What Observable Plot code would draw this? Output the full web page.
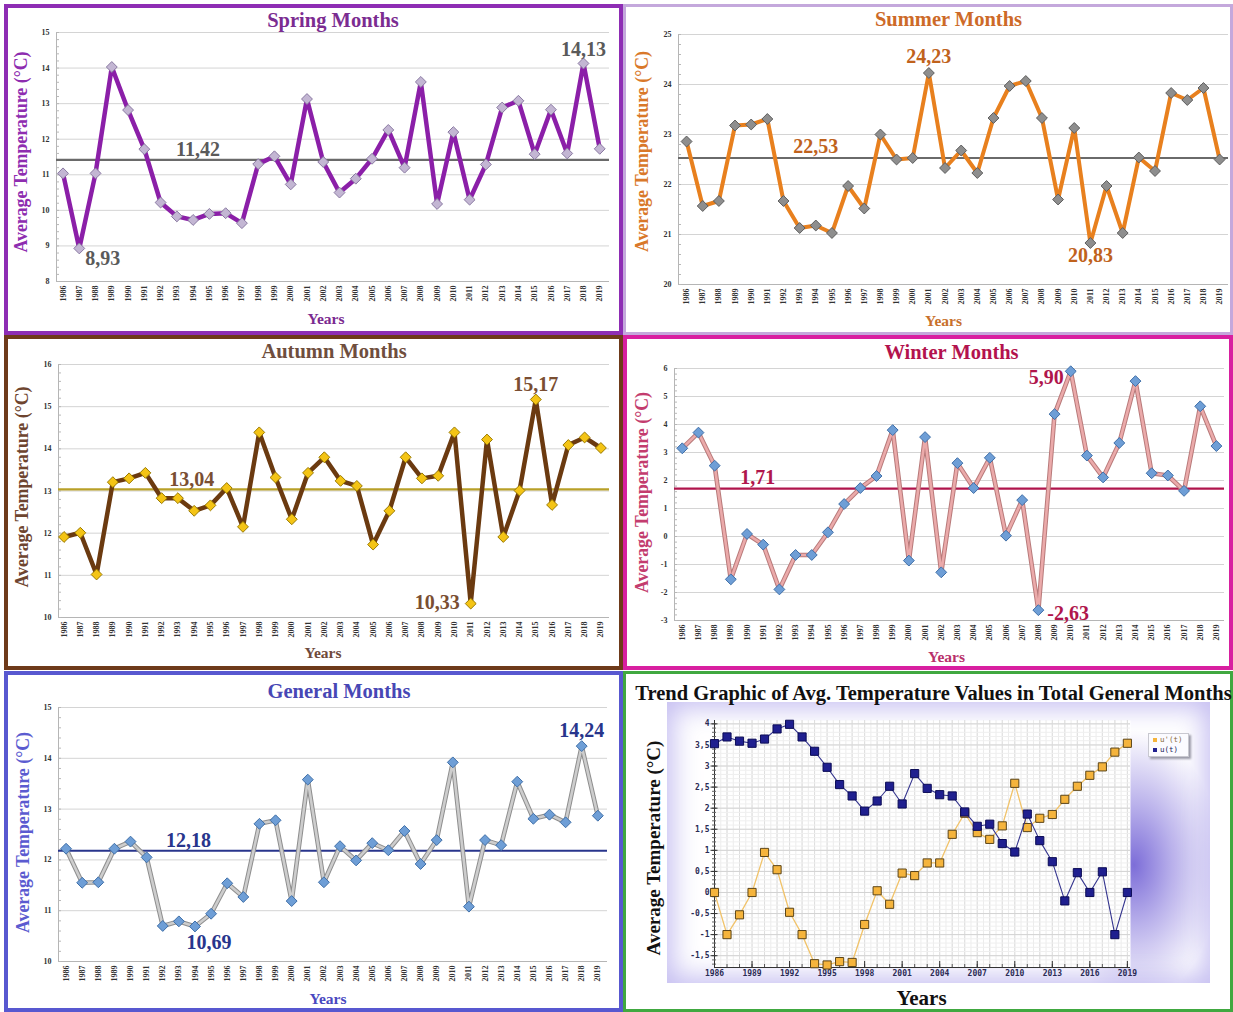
<!DOCTYPE html>
<html><head><meta charset="utf-8">
<script src="https://cdn.jsdelivr.net/npm/d3@7"></script>
<script src="https://cdn.jsdelivr.net/npm/@observablehq/plot@0.6"></script>
<style>
body{margin:0;background:#fff;}
#root{position:relative;width:1233px;height:1012px;overflow:hidden;background:#fff;font-family:"Liberation Serif",serif;}
.panel{position:absolute;box-sizing:border-box;}
.panel svg{position:absolute;left:0;top:0;overflow:visible;}
.grad{position:absolute;}
.legend{position:absolute;background:#fbfbff;border:1px solid #c8c8d0;box-shadow:2px 2px 2px #9a9aa8;font-family:"DejaVu Sans Mono",monospace;font-size:7.5px;line-height:10px;padding:1px 5px 1px 4px;}
.legend span.sw{display:inline-block;width:4px;height:4px;margin-right:3px;vertical-align:middle;}
</style></head><body><div id="root"></div><script>
// ---------------- data ----------------
const years = [1986,1987,1988,1989,1990,1991,1992,1993,1994,1995,1996,1997,1998,1999,2000,2001,2002,2003,2004,2005,2006,2007,2008,2009,2010,2011,2012,2013,2014,2015,2016,2017,2018,2019];

const springTemps = [11.04,8.93,11.04,14.03,12.82,11.72,10.22,9.83,9.73,9.90,9.92,9.64,11.30,11.52,10.73,13.13,11.36,10.50,10.89,11.45,12.26,11.20,13.61,10.18,12.20,10.30,11.29,12.89,13.08,11.58,12.83,11.60,14.13,11.73];
const summerTemps = [22.86,21.57,21.67,23.18,23.20,23.31,21.67,21.13,21.18,21.03,21.97,21.52,23.00,22.50,22.53,24.23,22.33,22.68,22.23,23.33,23.97,24.07,23.33,21.70,23.13,20.83,21.97,21.03,22.54,22.27,23.83,23.69,23.93,22.50];
const autumnTemps = [11.91,12.01,11.02,13.21,13.30,13.43,12.83,12.83,12.53,12.66,13.07,12.15,14.39,13.32,12.33,13.43,13.80,13.24,13.12,11.73,12.53,13.80,13.30,13.36,14.39,10.33,14.22,11.91,13.01,15.17,12.67,14.09,14.27,14.02];
const winterTemps = [3.15,3.71,2.53,-1.53,0.09,-0.29,-1.89,-0.66,-0.66,0.15,1.16,1.73,2.16,3.80,-0.86,3.55,-1.28,2.62,1.73,2.81,0.03,1.30,-2.63,4.37,5.90,2.89,2.11,3.34,5.55,2.26,2.18,1.63,4.65,3.23];
const generalTemps = [12.22,11.55,11.56,12.22,12.36,12.05,10.70,10.79,10.69,10.94,11.54,11.27,12.71,12.78,11.19,13.58,11.56,12.27,11.99,12.33,12.19,12.57,11.92,12.39,13.92,11.08,12.39,12.29,13.54,12.81,12.89,12.74,14.24,12.87];

const means = {spring: 11.42, summer: 22.53, autumn: 13.04, winter: 1.71, general: 12.18};

const springTicks = [8,9,10,11,12,13,14,15];
const summerTicks = [20,21,22,23,24,25];
const autumnTicks = [10,11,12,13,14,15,16];
const winterTicks = [-3,-2,-1,0,1,2,3,4,5,6];
const generalTicks = [10,11,12,13,14,15];

// Mann-Kendall trend (u(t) forward, u'(t) backward)
const uT      = [3.53,3.69,3.59,3.54,3.64,3.88,3.99,3.69,3.35,2.97,2.56,2.29,1.93,2.17,2.52,2.10,2.82,2.47,2.32,2.29,1.91,1.57,1.62,1.16,0.96,1.86,1.23,0.73,-0.20,0.47,0.00,0.49,-1.00,0.00];
const uPrimeT = [0.00,-1.00,-0.53,0.00,0.95,0.54,-0.47,-1.00,-1.69,-1.72,-1.64,-1.66,-0.76,0.04,-0.28,0.46,0.40,0.70,0.70,1.38,1.88,1.42,1.26,1.58,2.59,1.54,1.76,1.85,2.21,2.52,2.78,2.98,3.33,3.54];
const trendXTicks = [1986,1989,1992,1995,1998,2001,2004,2007,2010,2013,2016,2019];
const trendYTicks = [-1.5,-1,-0.5,0,0.5,1,1.5,2,2.5,3,3.5,4];
const legendLabels = ["u'(t)", "u(t)"];

// ---------------- helpers ----------------
const serif = "Liberation Serif, Times New Roman, serif";
const mono = "DejaVu Sans Mono, monospace";
const root = document.getElementById("root");

function makePanel(box) {
  const d = document.createElement("div");
  d.className = "panel";
  Object.assign(d.style, {left: box.left + "px", top: box.top + "px", width: box.w + "px", height: box.h + "px",
    border: box.bw + "px solid " + box.color});
  root.appendChild(d);
  return d;
}

function seasonChart(c) {
  const data = years.map((year, i) => ({year, value: c.values[i]}));
  const y0 = c.yTicks[0], y1 = c.yTicks[c.yTicks.length - 1];
  const minor = d3.range(y0, y1 + 1e-9, 0.2);
  const W = c.box.w - 2 * c.box.bw, H = c.box.h - 2 * c.box.bw;
  const txt = {fontFamily: serif, fontWeight: "bold", textAnchor: "middle", lineAnchor: "middle"};
  const marks = [
    Plot.ruleY(c.yTicks.slice(1), {stroke: "#d4d4d4", strokeWidth: 1}),
    Plot.ruleY([y0], {stroke: "#b5b5b5"}),
    Plot.ruleX([c.xDomain[0]], {stroke: "#b5b5b5"}),
    Plot.axisY(minor, {tickSize: 3, dx: 3, tickFormat: () => "", stroke: "#b8b8b8", label: null}),
    Plot.axisY(c.yTicks, {tickSize: 0, tickPadding: 7, tickFormat: d => String(d), fontSize: 8, fontWeight: "bold", fontFamily: serif, fill: "#333", label: null}),
    Plot.axisX(years, {tickSize: 0, tickPadding: 4, tickRotate: -90, tickFormat: d => String(d), fontSize: 8, fontWeight: "bold", fontFamily: serif, fill: "#333", label: null}),
    Plot.ruleY([c.mean], {stroke: c.meanStroke, strokeWidth: 2.2})
  ];
  if (c.lineOuter) marks.push(Plot.line(data, {x: "year", y: "value", stroke: c.lineOuter, strokeWidth: 4.6, strokeLinejoin: "miter"}));
  marks.push(Plot.line(data, {x: "year", y: "value", stroke: c.line, strokeWidth: c.lineWidth, strokeLinejoin: "miter"}));
  marks.push(Plot.dot(data, {x: "year", y: "value", symbol: "diamond2", r: 4.9, fill: c.dotFill, stroke: c.dotStroke, strokeWidth: 1}));
  marks.push(Plot.text([c.title], {text: d => d, frameAnchor: "top", dx: c.titleDx, dy: c.titleDy, fontSize: 20.5, fill: c.titleColor, ...txt}));
  marks.push(Plot.text(["Average Temperature (°C)"], {text: d => d, frameAnchor: "left", rotate: -90, dx: c.ylabDx, dy: c.ylabDy, fontSize: 17.8, fill: c.ylabColor, ...txt}));
  marks.push(Plot.text(["Years"], {text: d => d, frameAnchor: "bottom", dx: c.yearsDx, dy: c.yearsDy, fontSize: 15.5, fill: c.yearsColor, ...txt}));
  marks.push(Plot.text([{x: c.meanLabelYear, y: c.mean, t: c.meanText}], {x: "x", y: "y", text: "t", dy: c.meanLabelDy, fontSize: 20, fill: c.labelColor, ...txt}));
  for (const e of c.extremes) {
    marks.push(Plot.text([e], {x: "year", y: "value", text: "text", dx: e.dx, dy: e.dy, fontSize: 20, fill: c.labelColor, ...txt, textAnchor: e.anchor || "middle"}));
  }
  return Plot.plot({
    width: W, height: H,
    marginLeft: c.m[0], marginRight: c.m[1], marginTop: c.m[2], marginBottom: c.m[3],
    x: {domain: c.xDomain},
    y: {domain: [y0, y1]},
    style: {background: "transparent", fontFamily: serif, overflow: "visible"},
    marks
  });
}

// ---------------- seasonal panels ----------------
const seasons = [
  {values: springTemps, yTicks: springTicks, mean: means.spring, meanText: "11,42", meanLabelYear: 1994.3, meanLabelDy: -10,
   title: "Spring Months", box: {left: 4, top: 4, w: 619, h: 331, bw: 4, color: "#8E2DB4"},
   m: [48, 10, 24, 50], xDomain: [1985.6, 2019.6],
   titleDx: 0, titleDy: -12, ylabDx: -35, ylabDy: -5, yearsDx: -7, yearsDy: 38,
   titleColor: "#7B2C91", ylabColor: "#8E2DB0", yearsColor: "#7A2A90",
   line: "#8B1FA8", lineWidth: 4.5, dotFill: "#C3B6D3", dotStroke: "#8A7AA2", meanStroke: "#6a6a6a", labelColor: "#5A5A5A",
   extremes: [{year: 1987, value: 8.93, text: "8,93", dx: 6, dy: 10, anchor: "start"}, {year: 2018, value: 14.13, text: "14,13", dx: 0, dy: -14}]},
  {values: summerTemps, yTicks: summerTicks, mean: means.summer, meanText: "22,53", meanLabelYear: 1994.0, meanLabelDy: -11,
   title: "Summer Months", box: {left: 623, top: 4, w: 610, h: 331, bw: 3, color: "#C4A8DC"},
   m: [52, 2, 27, 48], xDomain: [1985.5, 2019.55],
   titleDx: -5, titleDy: -15, ylabDx: -36, ylabDy: -8, yearsDx: -10, yearsDy: 37,
   titleColor: "#CD6A28", ylabColor: "#D9782A", yearsColor: "#C8702C",
   line: "#E8801E", lineWidth: 4, dotFill: "#8E8E8E", dotStroke: "#5E5E5E", meanStroke: "#6a6a6a", labelColor: "#C0621C",
   extremes: [{year: 2001, value: 24.23, text: "24,23", dx: 0, dy: -16}, {year: 2011, value: 20.83, text: "20,83", dx: 0, dy: 13}]},
  {values: autumnTemps, yTicks: autumnTicks, mean: means.autumn, meanText: "13,04", meanLabelYear: 1993.85, meanLabelDy: -10,
   title: "Autumn Months", box: {left: 4, top: 335, w: 619, h: 335, bw: 4, color: "#6E3A1A"},
   m: [50, 10, 25, 49], xDomain: [1985.66, 2019.53],
   titleDx: 0, titleDy: -13, ylabDx: -36, ylabDy: -4, yearsDx: -11, yearsDy: 36,
   titleColor: "#6F4E3E", ylabColor: "#6E4530", yearsColor: "#6E4A3A",
   line: "#6B3A10", lineWidth: 4.5, dotFill: "#F4C415", dotStroke: "#9A7A00", meanStroke: "#B8A028", labelColor: "#7A4E32",
   extremes: [{year: 2011, value: 10.33, text: "10,33", dx: -11, dy: -1, anchor: "end"}, {year: 2015, value: 15.17, text: "15,17", dx: 0, dy: -15}]},
  {values: winterTemps, yTicks: winterTicks, mean: means.winter, meanText: "1,71", meanLabelYear: 1990.66, meanLabelDy: -11,
   title: "Winter Months", box: {left: 623, top: 335, w: 610, h: 335, bw: 4, color: "#D81FA0"},
   m: [47, 5, 29, 46], xDomain: [1985.52, 2019.5],
   titleDx: 2, titleDy: -16, ylabDx: -32, ylabDy: -2, yearsDx: -3, yearsDy: 37,
   titleColor: "#B3134E", ylabColor: "#C33C6E", yearsColor: "#B8306A",
   lineOuter: "#B87A7A", line: "#EBAAAA", lineWidth: 2.6, dotFill: "#6E9ED6", dotStroke: "#3F6FA8", meanStroke: "#B0154C", labelColor: "#B0164C",
   extremes: [{year: 2010, value: 5.90, text: "5,90", dx: -7, dy: 6, anchor: "end"}, {year: 2008, value: -2.63, text: "-2,63", dx: 9, dy: 3, anchor: "start"}]},
  {values: generalTemps, yTicks: generalTicks, mean: means.general, meanText: "12,18", meanLabelYear: 1993.6, meanLabelDy: -10,
   title: "General Months", box: {left: 4, top: 671, w: 619, h: 341, bw: 4, color: "#5858D0"},
   m: [50, 12, 32, 47], xDomain: [1985.53, 2019.6],
   titleDx: 6, titleDy: -16, ylabDx: -35, ylabDy: -2, yearsDx: -5, yearsDy: 38,
   titleColor: "#4747B5", ylabColor: "#5B5BD0", yearsColor: "#4848C0",
   lineOuter: "#8E8E8E", line: "#CDCDCD", lineWidth: 2.6, dotFill: "#6E9ED6", dotStroke: "#3F6FA8", meanStroke: "#28358C", labelColor: "#28358C",
   extremes: [{year: 1994, value: 10.69, text: "10,69", dx: 14, dy: 16}, {year: 2018, value: 14.24, text: "14,24", dx: 0, dy: -16}]}
];

for (const c of seasons) {
  const p = makePanel(c.box);
  p.appendChild(seasonChart(c));
}

// ---------------- trend panel ----------------
(function () {
  const box = {left: 623, top: 671, w: 610, h: 341, bw: 3, color: "#40A840"};
  const p = makePanel(box);
  const W = box.w - 2 * box.bw, H = box.h - 2 * box.bw;
  const g = document.createElement("div");
  g.className = "grad";
  Object.assign(g.style, {left: "41px", top: "28px", width: "543px", height: "281px",
    background: "radial-gradient(ellipse 16% 48% at 86% 58%, rgba(118,102,214,0.95) 0%, rgba(140,126,222,0.6) 45%, rgba(200,192,240,0) 100%), #fff",
    boxShadow: "inset 0 0 26px 6px rgba(178,168,236,0.75)"});
  p.appendChild(g);

  const data = years.map((year, i) => ({year, u: uT[i], up: uPrimeT[i]}));
  const yMin = -1.78, yMax = 4.08;
  const comma = d => String(d).replace(".", ",");
  const halfYears = d3.range(1986, 2019.3, 0.5);
  const tenths = d3.range(-1.7, 4.05, 0.1);
  const txt = {fontFamily: serif, fontWeight: "bold", fill: "#111", textAnchor: "middle", lineAnchor: "middle"};
  const tick = {fontFamily: mono, fontWeight: "bold", fontSize: 8, fill: "#2b2b55", label: null};
  const svg = Plot.plot({
    width: W, height: H, marginLeft: 88, marginRight: 100, marginTop: 46, marginBottom: 42,
    x: {domain: [1986, 2019.25]},
    y: {domain: [yMin, yMax]},
    style: {background: "transparent", fontFamily: serif, overflow: "visible"},
    marks: [
      Plot.frame({fill: "white", stroke: null}),
      Plot.ruleX(halfYears, {stroke: "#ececec"}),
      Plot.ruleX(years, {stroke: "#dedede"}),
      Plot.ruleY(tenths, {stroke: "#efefef"}),
      Plot.ruleY(trendYTicks, {stroke: "#d2d2d2"}),
      Plot.ruleX([1986], {stroke: "#333"}),
      Plot.ruleY([yMin], {stroke: "#333"}),
      Plot.axisY(tenths, {tickSize: 4, dx: 2, tickFormat: () => "", stroke: "#666", label: null}),
      Plot.axisY(trendYTicks, {tickSize: 7, dx: 3.5, tickFormat: () => "", stroke: "#333", label: null}),
      Plot.axisY(trendYTicks, {tickSize: 0, tickPadding: 5, tickFormat: comma, ...tick}),
      Plot.axisX(years, {tickSize: 3, dy: -3, tickFormat: () => "", stroke: "#555", label: null}),
      Plot.axisX(trendXTicks, {tickSize: 6, dy: -6, tickFormat: () => "", stroke: "#333", label: null}),
      Plot.axisX(trendXTicks, {tickSize: 0, tickPadding: 3, tickFormat: d => String(d), ...tick}),
      Plot.line(data, {x: "year", y: "up", stroke: "#F1C36A", strokeWidth: 1.3}),
      Plot.dot(data, {x: "year", y: "up", symbol: "square", r: 4.6, fill: "#F5B43C", stroke: "#5A4418", strokeWidth: 1}),
      Plot.line(data, {x: "year", y: "u", stroke: "#34348E", strokeWidth: 1.1}),
      Plot.dot(data, {x: "year", y: "u", symbol: "square", r: 4.6, fill: "#1F1F8F", stroke: "#0B0B55", strokeWidth: 1}),
      Plot.text(["Trend Graphic of Avg. Temperature Values in Total General Months"], {text: d => d, frameAnchor: "top", dx: 11, dy: -27, fontSize: 20.5, ...txt}),
      Plot.text(["Average Temperature (°C)"], {text: d => d, frameAnchor: "left", rotate: -90, dx: -61, dy: 4, fontSize: 19, ...txt}),
      Plot.text(["Years"], {text: d => d, frameAnchor: "bottom", dx: -1, dy: 31, fontSize: 21, ...txt})
    ]
  });
  p.appendChild(svg);

  const lg = document.createElement("div");
  lg.className = "legend";
  Object.assign(lg.style, {left: "522px", top: "59px"});
  const colors = [["#F5B43C", "#8a6a3a"], ["#1F1F8F", "#22225a"]];
  legendLabels.forEach((l, i) => {
    const row = document.createElement("div");
    const sw = document.createElement("span");
    sw.className = "sw"; sw.style.background = colors[i][0];
    row.appendChild(sw);
    const t = document.createElement("span");
    t.textContent = l; t.style.color = colors[i][1];
    row.appendChild(t);
    lg.appendChild(row);
  });
  p.appendChild(lg);
})();
</script></body></html>
